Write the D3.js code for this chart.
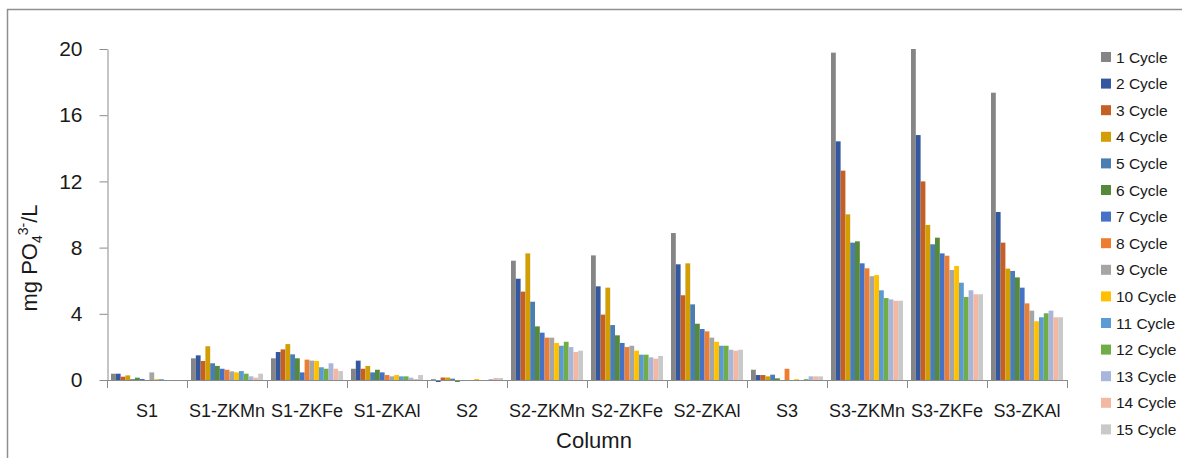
<!DOCTYPE html>
<html>
<head>
<meta charset="utf-8">
<script src="https://cdn.jsdelivr.net/npm/d3@7"></script>
<style>
  body { margin: 0; background: #fff; }
  text { font-family: "Liberation Sans", Arial, sans-serif; }
</style>
</head>
<body>
<div id="chart"></div>
<script>
// categories and cycle names
var columns = ["S1", "S1-ZKMn", "S1-ZKFe", "S1-ZKAl", "S2", "S2-ZKMn", "S2-ZKFe", "S2-ZKAl", "S3", "S3-ZKMn", "S3-ZKFe", "S3-ZKAl"];
var cycles = ["1 Cycle", "2 Cycle", "3 Cycle", "4 Cycle", "5 Cycle", "6 Cycle", "7 Cycle", "8 Cycle", "9 Cycle", "10 Cycle", "11 Cycle", "12 Cycle", "13 Cycle", "14 Cycle", "15 Cycle"];
var colors = ["#858585", "#34589f", "#c55f26", "#d19f05", "#4a7eb3", "#56893a", "#4572c6", "#ed7d31", "#a5a5a5", "#ffc000", "#5b9bd5", "#70ad47", "#a8b6dd", "#f3b8a2", "#c9c9c9"];
var yTicks = [0, 4, 8, 12, 16, 20];

// mg PO4 per column, one value per cycle
var vS1     = [0.38, 0.38, 0.20, 0.28, 0.05, 0.14, 0.06, 0.00, 0.46, 0.05, 0.05, 0.00, 0.00, 0.00, 0.00];
var vS1ZKMn = [1.31, 1.49, 1.15, 2.04, 1.01, 0.85, 0.68, 0.62, 0.52, 0.46, 0.54, 0.38, 0.22, 0.14, 0.38];
var vS1ZKFe = [1.31, 1.69, 1.85, 2.17, 1.55, 1.31, 0.46, 1.23, 1.17, 1.15, 0.77, 0.68, 1.01, 0.68, 0.54];
var vS1ZKAl = [0.68, 1.17, 0.68, 0.85, 0.46, 0.62, 0.46, 0.30, 0.22, 0.30, 0.22, 0.22, 0.14, 0.06, 0.30];
var vS2     = [0.05, -0.12, 0.15, 0.15, 0.08, -0.12, 0.00, 0.00, 0.00, 0.06, 0.00, 0.00, 0.06, 0.12, 0.12];
var vS2ZKMn = [7.21, 6.12, 5.34, 7.65, 4.73, 3.24, 2.86, 2.56, 2.56, 2.24, 2.07, 2.31, 1.99, 1.69, 1.77];
var vS2ZKFe = [7.53, 5.66, 3.95, 5.58, 3.32, 2.70, 2.24, 1.99, 2.07, 1.77, 1.53, 1.53, 1.37, 1.29, 1.45];
var vS2ZKAl = [8.88, 6.99, 5.12, 7.05, 4.57, 3.40, 3.08, 2.94, 2.56, 2.31, 2.07, 2.07, 1.83, 1.77, 1.83];
var vS3     = [0.62, 0.30, 0.30, 0.22, 0.32, 0.10, 0.00, 0.68, 0.00, 0.05, 0.00, 0.05, 0.22, 0.22, 0.22];
var vS3ZKMn = [19.78, 14.42, 12.65, 10.01, 8.30, 8.38, 7.05, 6.75, 6.27, 6.34, 5.42, 4.95, 4.87, 4.79, 4.79];
var vS3ZKFe = [20.0, 14.80, 12.0, 9.37, 8.20, 8.60, 7.65, 7.51, 6.65, 6.89, 5.88, 5.02, 5.42, 5.18, 5.18];
var vS3ZKAl = [17.36, 10.15, 8.30, 6.73, 6.59, 6.20, 5.58, 4.63, 4.19, 3.55, 3.79, 4.03, 4.19, 3.79, 3.79];

var values = [vS1, vS1ZKMn, vS1ZKFe, vS1ZKAl, vS2, vS2ZKMn, vS2ZKFe, vS2ZKAl, vS3, vS3ZKMn, vS3ZKFe, vS3ZKAl];

var width = 1182, height = 458;
var axisColor = "#8a8a8a";

var svg = d3.select("#chart")
  .append("svg")
    .attr("width", width)
    .attr("height", height);

// outer frame (only top and left edges show)
svg.append("rect")
  .attr("x", 7.5).attr("y", 9.5)
  .attr("width", 1300).attr("height", 600)
  .attr("fill", "none")
  .attr("stroke", "#8f8f8f")
  .attr("stroke-width", 1.5);

var x0 = d3.scaleBand()
  .domain(columns)
  .range([107, 1067]);

var x1 = d3.scaleBand()
  .domain(cycles)
  .range([4, x0.bandwidth() - 4]);

var y = d3.scaleLinear()
  .domain([0, 20])
  .range([380, 49]);

// bars
var groups = svg.append("g").selectAll("g")
  .data(columns)
  .join("g")
    .attr("transform", function(d) { return "translate(" + x0(d) + ",0)"; });

groups.selectAll("rect")
  .data(function(d, i) { return values[i].map(function(v, j) { return {cycle: cycles[j], v: v, c: colors[j]}; }); })
  .join("rect")
    .attr("x", function(d) { return x1(d.cycle); })
    .attr("width", x1.bandwidth())
    .attr("y", function(d) { return Math.min(y(d.v), y(0)); })
    .attr("height", function(d) { return Math.abs(y(d.v) - y(0)); })
    .attr("fill", function(d) { return d.c; });

// y axis
var axis_y = svg.append("g")
  .attr("transform", "translate(107.5,0)")
  .call(d3.axisLeft(y).tickValues(yTicks).tickSize(8).tickPadding(17).tickSizeOuter(0));
axis_y.select(".domain").attr("stroke", axisColor);
axis_y.selectAll(".tick line").attr("stroke", axisColor);
axis_y.selectAll(".tick text")
  .attr("font-size", 21)
  .attr("font-family", "Liberation Sans, Arial, sans-serif")
  .attr("fill", "#1a1a1a");

// x axis line and boundary ticks
svg.append("line")
  .attr("x1", 107).attr("x2", 1067)
  .attr("y1", y(0) + 0.5).attr("y2", y(0) + 0.5)
  .attr("stroke", axisColor);

var bounds = columns.map(function(c) { return x0(c); }).concat([x0.range()[1]]);
svg.append("g").selectAll("line")
  .data(bounds)
  .join("line")
    .attr("x1", function(d) { return d + 0.5; })
    .attr("x2", function(d) { return d + 0.5; })
    .attr("y1", y(0)).attr("y2", y(0) + 8)
    .attr("stroke", axisColor);

svg.append("g").selectAll("text")
  .data(columns)
  .join("text")
    .attr("x", function(d) { return x0(d) + x0.bandwidth() / 2; })
    .attr("y", 417)
    .attr("text-anchor", "middle")
    .attr("font-size", 18)
    .attr("fill", "#1a1a1a")
    .text(function(d) { return d; });

// axis titles
svg.append("text")
  .attr("x", 594).attr("y", 448)
  .attr("text-anchor", "middle")
  .attr("font-size", 22)
  .attr("fill", "#1a1a1a")
  .text("Column");

var yl = svg.append("text")
  .attr("transform", "translate(37,258) rotate(-90)")
  .attr("text-anchor", "middle")
  .attr("font-size", 22)
  .attr("fill", "#1a1a1a");
yl.append("tspan").text("mg PO");
yl.append("tspan").attr("font-size", 14).attr("dy", 5).text("4");
yl.append("tspan").attr("font-size", 14).attr("dy", -14).text("3-");
yl.append("tspan").attr("dy", 9).text("/L");

// legend
var legend = svg.append("g").selectAll("g")
  .data(cycles)
  .join("g")
    .attr("transform", function(d, i) { return "translate(1101," + (57 + i * 26.6) + ")"; });

legend.append("rect")
  .attr("x", 0).attr("y", -5)
  .attr("width", 10).attr("height", 10)
  .attr("fill", function(d, i) { return colors[i]; });

legend.append("text")
  .attr("x", 15).attr("y", 5.5)
  .attr("font-size", 15.5)
  .attr("fill", "#1a1a1a")
  .text(function(d) { return d; });
</script>
</body>
</html>
